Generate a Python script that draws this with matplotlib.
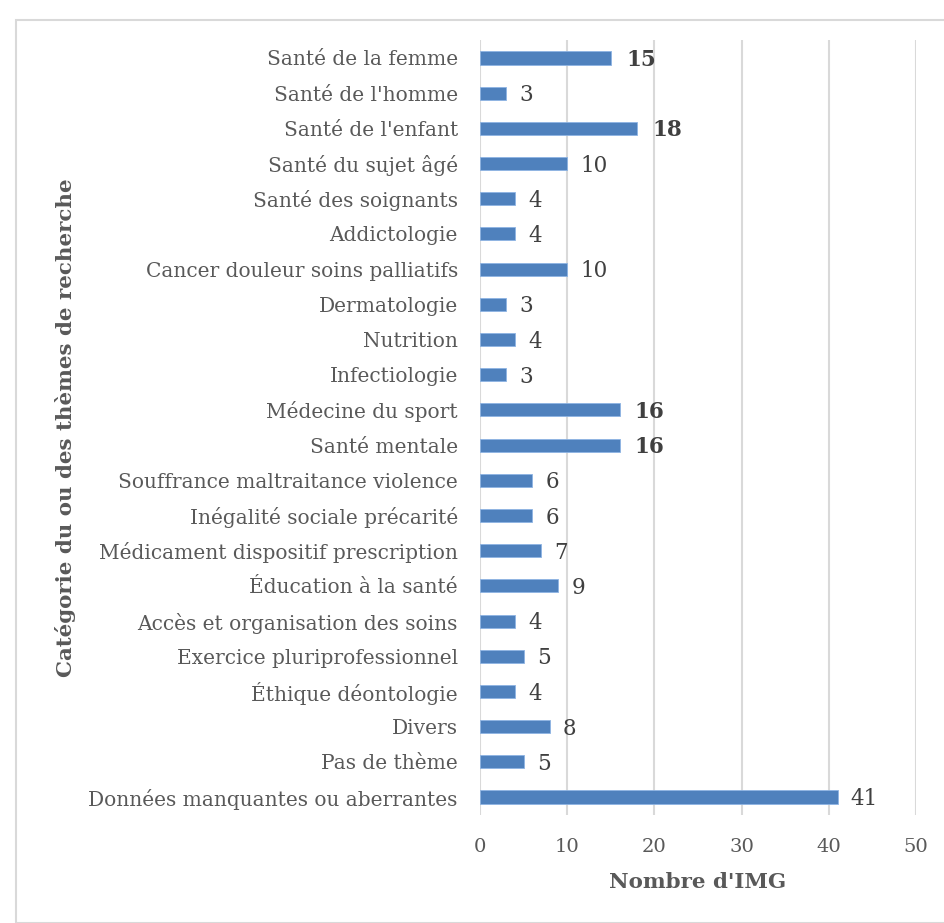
import matplotlib
matplotlib.use("Agg")
import matplotlib.pyplot as plt
from matplotlib.patches import Rectangle

categories = [
    "Santé de la femme", "Santé de l'homme", "Santé de l'enfant", "Santé du sujet âgé",
    "Santé des soignants", "Addictologie", "Cancer douleur soins palliatifs",
    "Dermatologie", "Nutrition", "Infectiologie", "Médecine du sport", "Santé mentale",
    "Souffrance maltraitance violence", "Inégalité sociale précarité",
    "Médicament dispositif prescription", "Éducation à la santé",
    "Accès et organisation des soins", "Exercice pluriprofessionnel",
    "Éthique déontologie", "Divers", "Pas de thème", "Données manquantes ou aberrantes",
]
values = [15, 3, 18, 10, 4, 4, 10, 3, 4, 3, 16, 16, 6, 6, 7, 9, 4, 5, 4, 8, 5, 41]
bold_labels = [True, False, True, False, False, False, False, False, False, False,
               True, True, False, False, False, False, False, False, False, False,
               False, False]
x_ticks = [0, 10, 20, 30, 40, 50]

FONT = "DejaVu Serif"
TXT = "#595959"
plt.rcParams["font.family"] = [FONT]

W, H = 944, 923
fig = plt.figure(figsize=(W / 100, H / 100), dpi=100)
ax = fig.add_axes([480 / W, 1 - 814.6 / H, 436 / W, (814.6 - 40.4) / H])

ypos = list(range(len(categories)))
ax.barh(ypos, values, height=0.37, color="#4F81BD", edgecolor="#8EB4E3",
        linewidth=0.6, zorder=3)
ax.set_ylim(len(categories) - 0.5, -0.5)
ax.set_xlim(0, 50)
ax.set_yticks(ypos)
ax.set_yticklabels(categories, fontsize=14.5, color=TXT)
ax.set_xticks(x_ticks)
ax.set_xticklabels([str(t) for t in x_ticks], fontsize=14, color=TXT)
ax.tick_params(axis="y", length=0, pad=16)
ax.tick_params(axis="x", length=0, pad=16.5)
for s in ax.spines.values():
    s.set_visible(False)
ax.grid(axis="x", color="#D9D9D9", linewidth=1.5, zorder=0)
ax.set_axisbelow(True)

for y, v, b in zip(ypos, values, bold_labels):
    ax.annotate(str(v), xy=(v, y), xytext=(11 if b else 9.5, -1.5),
                textcoords="offset points", va="center", ha="left",
                fontsize=15.5, color="#404040",
                fontweight="bold" if b else "normal")

ax.set_xlabel("Nombre d'IMG", fontsize=15.4, fontweight="bold", color=TXT,
              labelpad=12)
fig.text(66 / W, 1 - 428 / H, "Catégorie du ou des thèmes de recherche",
         rotation=90, ha="center", va="center", fontsize=15.4, fontweight="bold",
         color=TXT)

fig.patches.append(Rectangle((16 / W, 0), 1, 1 - 20 / H, transform=fig.transFigure,
                             fill=False, edgecolor="#D9D9D9", linewidth=1.5))

fig.savefig("out.png", dpi=100)
